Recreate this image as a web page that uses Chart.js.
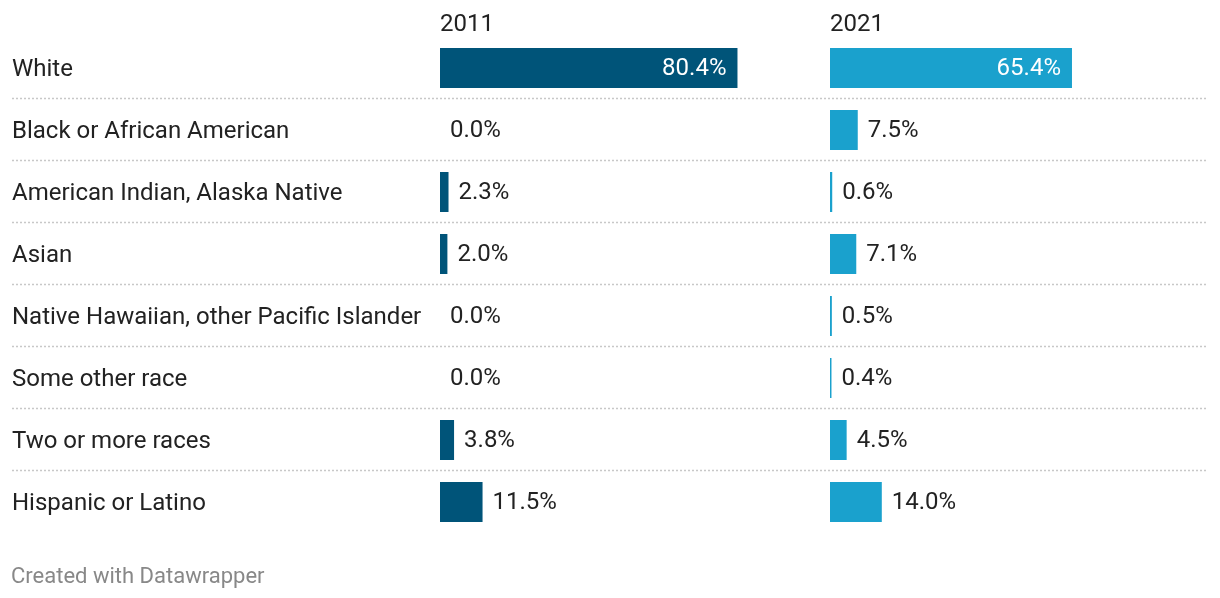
<!DOCTYPE html>
<html>
<head>
<meta charset="utf-8">
<script src="https://cdn.jsdelivr.net/npm/chart.js@4"></script>
<style>
  html, body { margin: 0; padding: 0; background: #fff; }
  #wrap { position: relative; width: 1220px; height: 598px; font-family: Roboto, sans-serif; }
  #wrap canvas { position: absolute; left: 0; top: 0; }
  .head { position: absolute; top: 8px; font-size: 24px; color: #222; line-height: 30px; }
  #foot { position: absolute; left: 11px; top: 562px; font-size: 22px; color: #888; line-height: 28px; }
</style>
</head>
<body>
<div id="wrap">
  <canvas id="chart-2011" width="1220" height="598"></canvas>
  <canvas id="chart-2021" width="1220" height="598"></canvas>
  <div class="head" id="head-a" style="left:440px"></div>
  <div class="head" id="head-b" style="left:830px"></div>
  <div id="foot">Created with Datawrapper</div>
</div>
<script>
  // Data
  const categories = [
    'White',
    'Black or African American',
    'American Indian, Alaska Native',
    'Asian',
    'Native Hawaiian, other Pacific Islander',
    'Some other race',
    'Two or more races',
    'Hispanic or Latino'
  ];
  const years = ['2011', '2021'];
  const values2011 = [80.4, 0.0, 2.3, 2.0, 0.0, 0.0, 3.8, 11.5];
  const values2021 = [65.4, 7.5, 0.6, 7.1, 0.5, 0.4, 4.5, 14.0];

  const FONT = 'Roboto, sans-serif';
  const TEXT = '#222222';

  document.getElementById('head-a').textContent = years[0];
  document.getElementById('head-b').textContent = years[1];

  // Value labels: inside the bar when it fits, otherwise just right of it
  const valueLabels = {
    id: 'valueLabels',
    afterDatasetsDraw(chart) {
      const ctx = chart.ctx;
      const meta = chart.getDatasetMeta(0);
      const data = chart.data.datasets[0].data;
      ctx.save();
      ctx.font = '24px ' + FONT;
      ctx.textBaseline = 'middle';
      meta.data.forEach((bar, i) => {
        const txt = data[i].toFixed(1) + '%';
        const w = ctx.measureText(txt).width;
        const barW = bar.x - bar.base;
        if (w + 30 < barW) {
          ctx.fillStyle = '#ffffff';
          ctx.textAlign = 'right';
          ctx.fillText(txt, bar.x - 11, bar.y + 1);
        } else {
          ctx.fillStyle = TEXT;
          ctx.textAlign = 'left';
          ctx.fillText(txt, bar.x + 10, bar.y + 1);
        }
      });
      ctx.restore();
    }
  };

  // Dotted row separators across the full width
  const rowLines = {
    id: 'rowLines',
    beforeDatasetsDraw(chart) {
      const y = chart.scales.y;
      const ctx = chart.ctx;
      ctx.save();
      ctx.strokeStyle = '#c8c8c8';
      ctx.lineWidth = 1.5;
      ctx.setLineDash([2, 2]);
      for (let i = 0; i < categories.length - 1; i++) {
        const py = Math.round((y.getPixelForValue(i) + y.getPixelForValue(i + 1)) / 2) - 0.5;
        ctx.beginPath();
        ctx.moveTo(12, py);
        ctx.lineTo(1208, py);
        ctx.stroke();
      }
      ctx.restore();
    }
  };

  function makeChart(id, values, color, showLabels, padLeft, padRight, plugins) {
    return new Chart(document.getElementById(id), {
      type: 'bar',
      data: {
        labels: categories,
        datasets: [{
          data: values,
          backgroundColor: color,
          borderWidth: 0,
          categoryPercentage: 1,
          barPercentage: 0.645
        }]
      },
      options: {
        indexAxis: 'y',
        responsive: false,
        animation: false,
        devicePixelRatio: 1,
        layout: { padding: { left: padLeft, right: padRight, top: 37, bottom: 65 } },
        plugins: {
          legend: { display: false },
          tooltip: { enabled: false }
        },
        scales: {
          x: { display: false, min: 0, max: 100 },
          y: {
            display: showLabels,
            grid: { display: false },
            border: { display: false },
            afterFit(scale) { if (showLabels) scale.width = 428; },
            ticks: {
              crossAlign: 'far',
              labelOffset: 2,
              color: TEXT,
              font: { family: FONT, size: 24 }
            }
          }
        }
      },
      plugins: plugins
    });
  }

  makeChart('chart-2011', values2011, '#005479', true, 12, 410, [rowLines, valueLabels]);
  makeChart('chart-2021', values2021, '#1aa1cd', false, 830, 20, [valueLabels]);
</script>
</body>
</html>
